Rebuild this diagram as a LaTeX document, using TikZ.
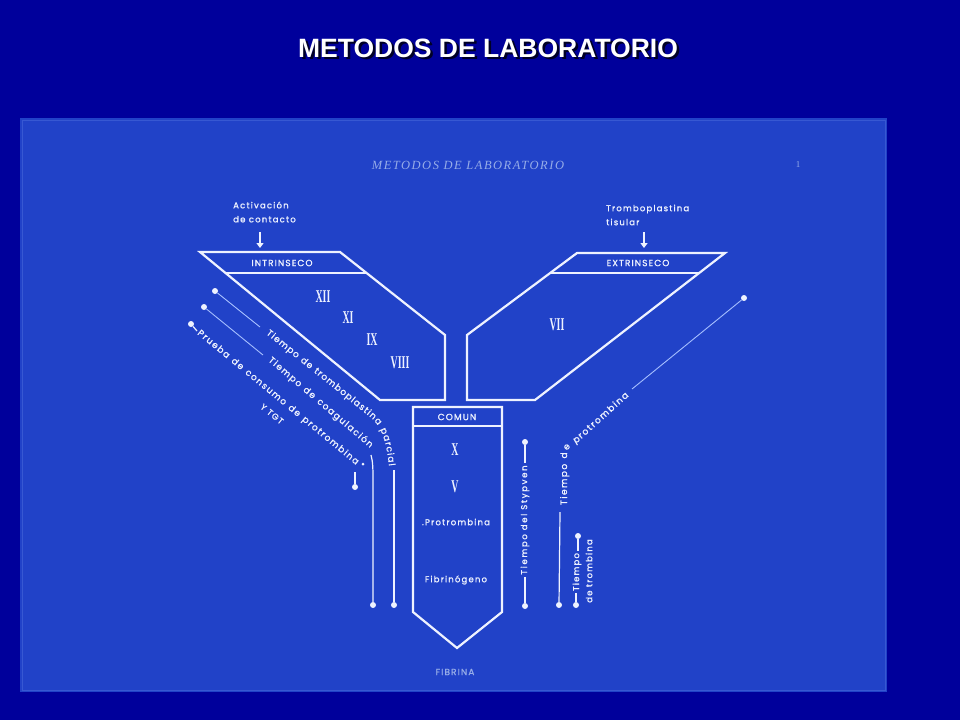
\documentclass[tikz,border=0pt]{standalone}
\usepackage{fontspec}
\usepackage{graphicx}
\usetikzlibrary{decorations.text,arrows.meta}
\newfontfamily\labfont[FakeBold=1.2]{Poppins}
\newfontfamily\headfont{Liberation Sans}
\newfontfamily\numfont{Liberation Serif}
\definecolor{outerbg}{RGB}{0,0,155}
\definecolor{slidebg}{RGB}{33,66,200}
\definecolor{slideedge}{RGB}{55,88,210}
\definecolor{chalk}{RGB}{238,242,255}
\definecolor{leader}{RGB}{165,190,255}
\definecolor{faint}{RGB}{150,172,232}
\begin{document}
\begin{tikzpicture}[x=1pt,y=-1pt,
  outline/.style={draw=chalk,line width=2.2pt,line join=miter},
  thinline/.style={draw=chalk,line width=1.2pt},
  leaderline/.style={draw=leader,line width=0.9pt},
  dot/.style={circle,fill=chalk,inner sep=0pt,minimum size=6pt},
  lab/.style={text=chalk,inner sep=2pt,font=\labfont\fontsize{8.5}{14}\selectfont\addfontfeature{LetterSpace=14}},
  band/.style={text=chalk,font=\labfont\fontsize{9}{10}\selectfont\addfontfeature{LetterSpace=12}},
  roman/.style={text=chalk,font=\numfont\bfseries\fontsize{18}{18}\selectfont},
  pathtext/.style={decorate,decoration={text along path,text align={fit to path},text={|\labfont\fontsize{9}{10}\selectfont\color{chalk}|#1}}},
  arrowline/.style={draw=chalk,line width=1.6pt,-{Triangle[width=7pt,length=5pt]}}
]
\useasboundingbox (0,0) rectangle (960,720);
% backgrounds
\fill[outerbg] (0,0) rectangle (960,720);
\fill[slidebg] (20,118) rectangle (887,692);
\draw[slideedge,line width=1pt] (22,120) rectangle (885,690);
% titles
\node[font=\headfont\bfseries\fontsize{26.5}{30}\selectfont,text=black!85!blue] (titleshadow) at (490.5,50.5) {METODOS DE LABORATORIO};
\node[font=\headfont\bfseries\fontsize{26.5}{30}\selectfont,text=white] (title) at (488,48) {METODOS DE LABORATORIO};
\node[font=\numfont\itshape\fontsize{12.5}{13}\selectfont\addfontfeature{LetterSpace=12},text=faint] (subtitle) at (468,165) {METODOS DE LABORATORIO};
\node[font=\numfont\fontsize{9}{9}\selectfont,text=faint] (pagemark) at (798,165) {1};
% intrinsic
\draw[outline] (200,252) -- (340,252) -- (445,335) -- (445,400) -- (380,400) -- cycle;
\draw[outline] (226,273) -- (366,273);
\node[band] (intr) at (282,263) {INTRINSECO};
\node[roman] (xii) at (323,297) {\scalebox{0.55}[1]{XII}};
\node[roman] (xi) at (348,318) {\scalebox{0.55}[1]{XI}};
\node[roman] (ix) at (372,340) {\scalebox{0.55}[1]{IX}};
\node[roman] (viii) at (400,363) {\scalebox{0.55}[1]{VIII}};
\node[lab,align=left,anchor=west] (activ) at (231,212) {Activación\\de contacto};
\coordinate (a1s) at (260,232);
\coordinate (a1e) at (260,248);
\draw[arrowline] (a1s) -- (a1e);
% extrinsic
\draw[outline] (577,253) -- (725,253) -- (535,400) -- (467,400) -- (467,335) -- cycle;
\draw[outline] (550,273) -- (699,273);
\node[band] (extr) at (638,263) {EXTRINSECO};
\node[roman] (vii) at (557,325) {\scalebox{0.55}[1]{VII}};
\node[lab,align=left,anchor=west] (tromb) at (604,215) {Tromboplastina\\tisular};
\coordinate (a2s) at (644,232);
\coordinate (a2e) at (644,248);
\draw[arrowline] (a2s) -- (a2e);
% common
\draw[outline] (413,407) -- (502,407) -- (502,612) -- (457,648) -- (413,612) -- cycle;
\draw[outline] (413,426) -- (502,426);
\node[band] (comun) at (457,417) {COMUN};
\node[roman] (x) at (455,450) {\scalebox{0.55}[1]{X}};
\node[roman] (v) at (455,487) {\scalebox{0.55}[1]{V}};
\node[lab] (prot) at (456,522) {.Protrombina};
\node[lab] (fibri) at (456,580) {Fibrinógeno};
\node[band,text=faint] (fibrina) at (455,672) {FIBRINA};
% left leaders
\node[dot] (d1) at (215,291) {};
\coordinate (d1e) at (260,327);
\draw[leaderline] (d1) -- (d1e);
\path[pathtext={Tiempo de tromboplastina parcial}] (266,334) -- (370,417) .. controls (380,425) and (386,437) .. (389,466);
\node[dot] (d2) at (204,307) {};
\coordinate (d2e) at (263,355);
\draw[leaderline] (d2) -- (d2e);
\path[pathtext={Tiempo de coagulación}] (268,361) -- (370,448);
\node[dot] (d3) at (191,324) {};
\coordinate (d3e) at (197,331);
\draw[thinline] (d3) -- (d3e);
\path[pathtext={Prueba de consumo de protrombina}] (197,334) -- (356,465);
\node[dot,minimum size=3pt] (pdot) at (363,464) {};
\node[lab,rotate=-39] (ytgt) at (272,414) {Y TGT};
\node[dot] (dA) at (394,605) {};
\coordinate (Atop) at (394,470);
\draw[thinline] (Atop) -- (dA);
\node[dot] (dB) at (373,605) {};
\coordinate (Btop) at (371,455);
\draw[thinline] (Btop) .. controls (373,462) and (373,470) .. (373,482) -- (dB);
\node[dot] (dC) at (355,487) {};
\coordinate (Ctop) at (355,472);
\draw[thinline] (Ctop) -- (dC);
% right leaders
\node[dot] (dP) at (744,298) {};
\coordinate (Pend) at (632,389);
\draw[leaderline] (dP) -- (Pend);
\path[pathtext={Tiempo de protrombina}] (567,505) -- (567,455) .. controls (567,448) and (571,446) .. (578,442) -- (629,396);
\coordinate (Ptop) at (560,512);
\node[dot] (dP2) at (559,605) {};
\draw[thinline] (Ptop) -- (dP2);
% stypven
\node[lab,rotate=90,font=\labfont\fontsize{8.5}{10}\selectfont\addfontfeature{LetterSpace=20}] (styp) at (525,520) {Tiempo del Stypven};
\node[dot] (sTop) at (525,442) {};
\node[dot] (sBot) at (525,606) {};
\draw[thinline] (sTop) -- (styp.east);
\draw[thinline] (styp.west) -- (sBot);
% trombina
\node[lab,rotate=90] (tt1) at (577,572) {Tiempo};
\node[lab,rotate=90] (tt2) at (589,571) {de trombina};
\node[dot] (tTop) at (578,536) {};
\node[dot] (tBot) at (576,605) {};
\draw[thinline] (tTop) -- (tTop |- tt1.east);
\draw[thinline] (tBot |- tt1.west) -- (tBot);
\end{tikzpicture}
\end{document}
